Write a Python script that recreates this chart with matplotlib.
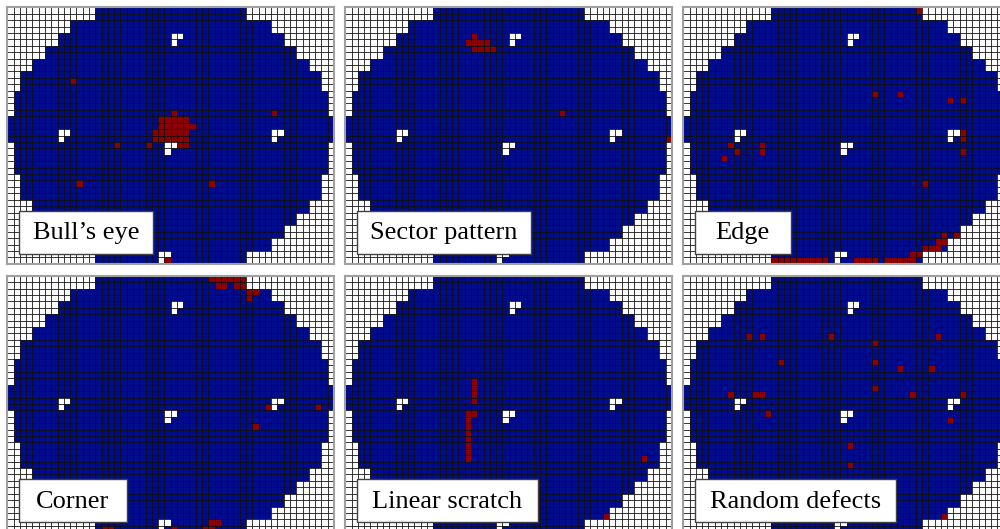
# Wafer map defect patterns (6 panels)
import numpy as np
import matplotlib
matplotlib.use("Agg")
import matplotlib.pyplot as plt
from matplotlib.colors import ListedColormap
from matplotlib.patches import Rectangle

n_rows, n_cols = 40, 52

# number of empty (white) cells at each end of a row -> wafer outline
row_margin = [14, 14, 10, 10, 8, 8, 6, 6, 4, 4, 2, 2, 2, 1, 1, 1, 1,
              0, 0, 0, 0, 1, 1, 1, 1, 1, 2, 2, 2, 2, 4, 4, 6, 6,
              8, 8, 10, 10, 14, 14]

# missing dies inside the wafer (row, col)
notch_cells = [(4, 26), (4, 27), (5, 26),
               (19, 8), (19, 9), (20, 8),
               (19, 42), (19, 43), (20, 42),
               (21, 25), (21, 26), (22, 25),
               (38, 24), (38, 25), (39, 24)]

titles = ["Bull\u2019s eye", "Sector pattern", "Edge",
          "Corner", "Linear scratch", "Random defects"]

bulls_eye = [(11, 10), (16, 26), (16, 42),
             (17, 24), (17, 25), (17, 26), (17, 27), (17, 28),
             (18, 24), (18, 25), (18, 26), (18, 27), (18, 28), (18, 29),
             (19, 23), (19, 24), (19, 25), (19, 26), (19, 27), (19, 28),
             (20, 23), (20, 24), (20, 25), (20, 26), (20, 27), (20, 28),
             (21, 17), (21, 22), (21, 27), (21, 28),
             (27, 11), (27, 32), (39, 25)]

sector = [(4, 20), (5, 19), (5, 20), (5, 21), (5, 22),
          (6, 20), (6, 21), (6, 22), (6, 23), (16, 34), (20, 51)]

edge = [(0, 37), (13, 30), (13, 34), (14, 42), (14, 44),
        (19, 44), (20, 44), (22, 44),
        (21, 7), (22, 8), (23, 6), (21, 12), (22, 12), (27, 38),
        (35, 41), (35, 43), (36, 40), (36, 41), (37, 38), (37, 39), (37, 40),
        (38, 36), (38, 37),
        (39, 14), (39, 15), (39, 16), (39, 17), (39, 18), (39, 19), (39, 20),
        (39, 21), (39, 22), (39, 27), (39, 28), (39, 29), (39, 30),
        (39, 32), (39, 33), (39, 34), (39, 35), (39, 36)]

corner = [(0, 32), (0, 33), (0, 34), (0, 35), (0, 36), (0, 37),
          (1, 33), (1, 34), (1, 36), (1, 37), (2, 38), (2, 39), (3, 38),
          (20, 41), (20, 49), (23, 39),
          (38, 32), (38, 33), (39, 15), (39, 16), (39, 26), (39, 31), (39, 32)]

linear = [(16, 20), (17, 20), (18, 20), (19, 20), (21, 19), (21, 20),
          (22, 19), (23, 19), (24, 19), (25, 19), (26, 19), (27, 19), (28, 19),
          (28, 47), (37, 41)]

random_def = [(9, 10), (9, 12), (9, 23), (9, 40), (10, 30), (13, 15), (13, 30),
              (14, 34), (14, 39), (17, 30), (18, 7), (18, 11), (18, 12), (18, 36),
              (18, 44), (21, 13), (22, 42), (26, 26), (29, 26), (37, 41)]

defects = [bulls_eye, sector, edge, corner, linear, random_def]

# label box widths (px)
box_w = [134, 174, 96, 108, 181, 201]

W, H = 1000, 529
fig = plt.figure(figsize=(10, 5.29), dpi=100)

cmap = ListedColormap(["white", "#000c8c", "#8b0000"])

pw, ph = 326.7, 256.5
for k in range(6):
    i, j = divmod(k, 3)
    x0 = 7.3 + 338 * j
    y0 = 7.3 + 268.4 * i

    grid = np.zeros((n_rows, n_cols))
    for r, m in enumerate(row_margin):
        grid[r, m:n_cols - m] = 1
    for r, c in notch_cells:
        grid[r, c] = 0
    for r, c in defects[k]:
        grid[r, c] = 2

    ax = fig.add_axes([x0 / W, 1 - (y0 + ph) / H, pw / W, ph / H])
    ax.pcolormesh(grid, cmap=cmap, vmin=0, vmax=2,
                  edgecolors="#0a0a0a", linewidth=0.5, antialiased=True)
    ax.set_xlim(0, n_cols)
    ax.set_ylim(n_rows, 0)
    ax.set_xticks([])
    ax.set_yticks([])
    for s in ax.spines.values():
        s.set_color("#a0a0a0")
        s.set_linewidth(1.5)

    # label box
    bx, by = x0 + 11.5, y0 + 203.4
    bw, bh = box_w[k], 43
    fig.patches.append(Rectangle((bx / W, 1 - (by + bh) / H), bw / W, bh / H,
                                 transform=fig.transFigure, facecolor="white",
                                 edgecolor="#404040", linewidth=1.0, zorder=5))
    fig.text((bx + bw / 2) / W, 1 - (by + bh / 2 + 1) / H, titles[k],
             ha="center", va="center", fontsize=19,
             family="Liberation Serif", zorder=6)

fig.savefig("out.png", dpi=100)
